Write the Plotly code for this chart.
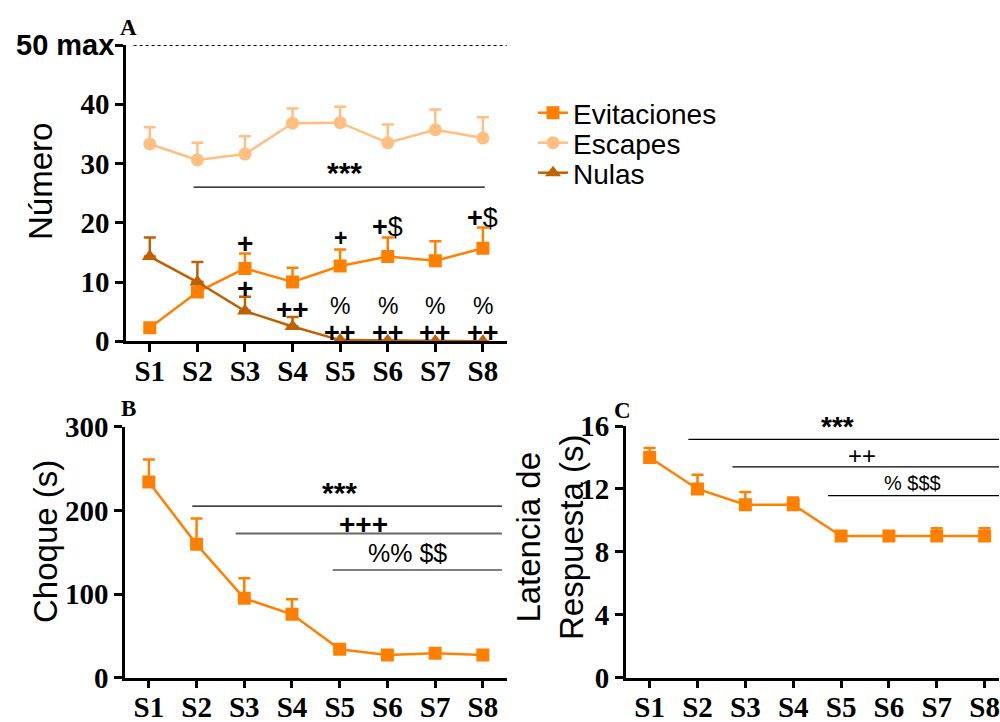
import plotly.graph_objects as go

sessions = ["S1", "S2", "S3", "S4", "S5", "S6", "S7", "S8"]
xi = list(range(len(sessions)))

# Panel A (Número)
evit_mean = [2.3, 8.3, 12.3, 10.0, 12.7, 14.3, 13.6, 15.7]
evit_sem = [0.0, 1.7, 2.5, 2.4, 2.8, 3.2, 3.3, 3.5]
esc_mean = [33.3, 30.6, 31.6, 36.8, 36.9, 33.5, 35.7, 34.3]
esc_sem = [2.8, 2.9, 3.0, 2.5, 2.7, 3.1, 3.4, 3.5]
nul_mean = [14.3, 10.0, 5.1, 2.5, 0.2, 0.1, 0.0, 0.0]
nul_sem = [3.2, 3.4, 2.4, 1.6, 0.0, 0.0, 0.0, 0.0]

# Panel B (Choque)
choque_mean = [233.8, 159.4, 94.9, 75.7, 33.9, 27.1, 29.1, 27.1]
choque_sem = [27.0, 31.0, 24.0, 18.0, 0.0, 0.0, 0.0, 0.0]

# Panel C (Latencia)
lat_mean = [14.0, 12.0, 11.0, 11.0, 9.0, 9.0, 9.0, 9.0]
lat_sem = [0.6, 0.9, 0.8, 0.45, 0.1, 0.1, 0.5, 0.5]

C_EVIT = "#FF8000"
C_ESC = "#FFBF80"
C_NUL = "#C06000"

SERIF = "Liberation Serif"
SANS = "Liberation Sans"

W, H = 1000, 722


def px_x(p):
    return p / W


def px_y(p):
    return 1 - p / H


fig = go.Figure()


def add_series(x, y, sem, color, symbol, name, xa, ya, legend=None, size=13):
    fig.add_trace(go.Scatter(
        x=x, y=y, mode="lines+markers", name=name,
        line=dict(color=color, width=2.5),
        marker=dict(color=color, symbol=symbol, size=size),
        error_y=dict(type="data", array=sem, arrayminus=[0] * len(sem),
                     symmetric=False, color=color, thickness=2.5, width=6),
        xaxis=xa, yaxis=ya, showlegend=legend is not None,
        legend=legend if legend else "legend",
    ))


add_series(xi, evit_mean, evit_sem, C_EVIT, "square", "Evitaciones", "x", "y", "legend")
add_series(xi, esc_mean, esc_sem, C_ESC, "circle", "Escapes", "x", "y", "legend2")
add_series(xi, nul_mean, nul_sem, C_NUL, "triangle-up", "Nulas", "x", "y", "legend3", size=14)
add_series(xi, choque_mean, choque_sem, C_EVIT, "square", "Choque", "x2", "y2")
add_series(xi, lat_mean, lat_sem, C_EVIT, "square", "Latencia", "x3", "y3")

xr = [-0.5, 7.5]
xaxis_common = dict(
    range=xr, tickvals=xi, ticktext=sessions, showline=True, linecolor="black",
    linewidth=2.5, ticks="outside", ticklen=8, tickwidth=2.5, tickcolor="black",
    showgrid=False, zeroline=False, ticklabelstandoff=-6, automargin=False,
    tickfont=dict(family=SERIF, size=29, color="black", weight="bold"),
)
yaxis_common = dict(
    showline=True, linecolor="black", linewidth=2.5, ticks="outside", ticklen=8,
    tickwidth=2.5, tickcolor="black", showgrid=False, zeroline=False,
    automargin=False,
    tickfont=dict(family=SERIF, size=29, color="black", weight="bold"),
)

fig.update_layout(
    width=W, height=H, margin=dict(l=0, r=0, t=0, b=0, autoexpand=False),
    paper_bgcolor="white", plot_bgcolor="white",
    xaxis=dict(xaxis_common, domain=[px_x(126), px_x(506.7)], anchor="y"),
    yaxis=dict(yaxis_common, domain=[px_y(341.3), px_y(45)], anchor="x",
               range=[0, 50], tickvals=[0, 10, 20, 30, 40, 50],
               ticktext=["0", "10", "20", "30", "40", ""]),
    xaxis2=dict(xaxis_common, domain=[px_x(125), px_x(506.7)], anchor="y2"),
    yaxis2=dict(yaxis_common, domain=[px_y(677.7), px_y(426.7)], anchor="x2",
                range=[0, 300], tickvals=[0, 100, 200, 300]),
    xaxis3=dict(xaxis_common, domain=[px_x(625.7), px_x(999)], anchor="y3",
                range=[-0.5, 7.3]),
    yaxis3=dict(yaxis_common, domain=[px_y(677.7), px_y(426)], anchor="x3",
                range=[0, 16], tickvals=[0, 4, 8, 12, 16]),
)

leg = dict(x=0.533, xanchor="left", yanchor="middle", bgcolor="rgba(0,0,0,0)",
           font=dict(family=SANS, size=28, color="black"), itemwidth=30,
           tracegroupgap=0)
fig.update_layout(
    legend=dict(leg, y=px_y(113)),
    legend2=dict(leg, y=px_y(143)),
    legend3=dict(leg, y=px_y(173)),
)

anns = []
shapes = []


def txt(x, y, text, xref, yref, size, bold=False, family=SANS,
        xanchor="center", yanchor="middle", **kw):
    anns.append(dict(x=x, y=y, xref=xref, yref=yref, text=text, showarrow=False,
                     xanchor=xanchor, yanchor=yanchor,
                     font=dict(family=family, size=size, color="black",
                               weight="bold" if bold else "normal"), **kw))


def hline(x0, x1, y, xref, yref, color="black", width=1.2, dash="solid"):
    shapes.append(dict(type="line", x0=x0, x1=x1, y0=y, y1=y, xref=xref, yref=yref,
                       line=dict(color=color, width=width, dash=dash)))


# Panel A
hline(-0.34, 7.56, 50, "x", "y", width=2.2, dash="dot")
txt(px_x(116), 50, "50 max", "paper", "y", 29, bold=True, xanchor="right")
hline(0.92, 7.04, 26.0, "x", "y")
txt(4.1, 28.4, "***", "x", "y", 30, bold=True)
txt(2, 16.5, "+", "x", "y", 28, bold=True)
txt(2, 8.9, "+", "x", "y", 28, bold=True)
txt(3, 5.4, "++", "x", "y", 28, bold=True)
txt(4, 17.4, "+", "x", "y", 23, bold=True)
txt(5, 19.3, "<b>+</b>$", "x", "y", 27)
txt(7, 20.8, "<b>+</b>$", "x", "y", 27)
for k in [4, 5, 6, 7]:
    txt(k, 6.0, "%", "x", "y", 23)
    txt(k, 1.35, "++", "x", "y", 27, bold=True)

# Panel B
hline(0.91, 7.4, 205, "x2", "y2")
txt(4.0, 221.5, "***", "x2", "y2", 30, bold=True)
hline(1.82, 7.4, 172.5, "x2", "y2", color="#666666", width=2)
txt(4.5, 183, "+++", "x2", "y2", 28, bold=True)
hline(3.85, 7.4, 128.7, "x2", "y2")
txt(5.43, 148.6, "%% $$", "x2", "y2", 25)

# Panel C
hline(0.81, 7.3, 15.15, "x3", "y3")
txt(3.92, 15.95, "***", "x3", "y3", 28, bold=True)
hline(1.73, 7.3, 13.4, "x3", "y3")
txt(4.43, 14.1, "++", "x3", "y3", 24)
hline(3.73, 7.3, 11.57, "x3", "y3")
txt(5.5, 12.36, "% $$$", "x3", "y3", 20)

# Axis titles
txt(px_x(40), px_y(182), "Número", "paper", "paper", 33, textangle=-90)
txt(px_x(45), px_y(542), "Choque (s)", "paper", "paper", 33, textangle=-90)
txt(px_x(550), px_y(538), "Latencia de<br>Respuesta (s)", "paper", "paper", 33,
    textangle=-90)

# Panel letters
txt(px_x(128), px_y(28), "A", "paper", "paper", 23, bold=True, family=SERIF)
txt(px_x(128), px_y(408), "B", "paper", "paper", 23, bold=True, family=SERIF)
txt(px_x(622), px_y(410), "C", "paper", "paper", 23, bold=True, family=SERIF)

fig.update_layout(annotations=anns, shapes=shapes)

fig.write_html(
    "out.html",
    config={"displayModeBar": False},
    post_script="document.body.style.margin='0';document.body.style.overflow='hidden';",
)
